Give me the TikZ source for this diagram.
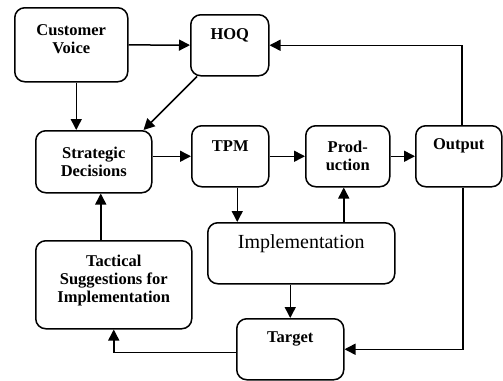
\documentclass[tikz,border=0pt]{standalone}
\usepackage{fontspec}
\setmainfont{Liberation Serif}
\usetikzlibrary{arrows.meta,positioning}

\tikzset{
  blk/.style={draw, line width=1.5pt, rounded corners=10pt, anchor=north west, inner sep=0pt},
  lbl/.style={font=\bfseries\fontsize{16.5}{18}\selectfont, align=center, inner sep=0pt},
  arr/.style={line width=1.5pt, -{Triangle[length=11pt,width=11pt]}},
}

\begin{document}
\begin{tikzpicture}[x=1pt, y=-1pt]
\useasboundingbox (0,0) rectangle (503,380);

\node[blk, minimum width=113pt, minimum height=74pt] (cv) at (14,7) {};
\node[blk, minimum width=78pt, minimum height=61pt] (hoq) at (190,14) {};
\node[blk, minimum width=116pt, minimum height=62pt] (sd) at (35,130) {};
\node[blk, minimum width=77pt, minimum height=61pt] (tpm) at (191,125) {};
\node[blk, minimum width=84pt, minimum height=61pt] (prod) at (305,125) {};
\node[blk, minimum width=86pt, minimum height=61pt] (out) at (415,125) {};
\node[blk, minimum width=156pt, minimum height=88pt] (tac) at (35,240) {};
\node[blk, minimum width=187pt, minimum height=61pt] (impl) at (207,222) {};
\node[blk, minimum width=107pt, minimum height=61pt] (tgt) at (236,318) {};

\node[lbl] (cvtext) at ([yshift=6pt]cv) {Customer\\Voice};
\node[lbl] (hoqtext) at ([yshift=10pt]hoq) {HOQ};
\node[lbl] (sdtext) at (sd) {Strategic\\Decisions};
\node[lbl] (tpmtext) at ([yshift=10pt]tpm) {TPM};
\node[lbl] (prodtext) at (prod) {Prod-\\uction};
\node[lbl] (outtext) at ([yshift=10pt]out) {Output};
\node[lbl] (tactext) at ([yshift=4pt]tac) {Tactical\\Suggestions for\\Implementation};
\node[lbl, font=\fontsize{20}{22}\selectfont] (impltext) at ([yshift=10pt]impl) {Implementation};
\node[lbl] (tgttext) at ([yshift=10pt]tgt) {Target};

\draw[arr] (cv) -- (hoq);
\draw[arr] ([xshift=5pt]cv.south) -- ([xshift=5pt]cv.south |- sd.north);
\draw[arr] ([xshift=7pt]hoq.south west) -- ([xshift=-9pt]sd.north east);
\draw[arr] (sd.east |- tpm.west) -- (tpm.west);
\draw[arr] (tpm) -- (prod);
\draw[arr] (prod) -- (out);
\draw[arr] ([xshift=3pt]out.north) |- (hoq.east);
\draw[arr] ([xshift=7pt]tpm.south) -- ([xshift=7pt]tpm.south |- impl.north);
\draw[arr] ([xshift=-4pt]prod.south |- impl.north) -- ([xshift=-4pt]prod.south);
\draw[arr] (tgt.north |- impl.south) -- (tgt.north);
\draw[arr] ([xshift=-13pt]tac.north) -- ([xshift=-13pt]tac.north |- sd.south);
\draw[arr] ([yshift=-3pt]tgt.west) -| (tac.south);
\draw[arr] ([xshift=4pt]out.south) |- (tgt.east);
\end{tikzpicture}
\end{document}
